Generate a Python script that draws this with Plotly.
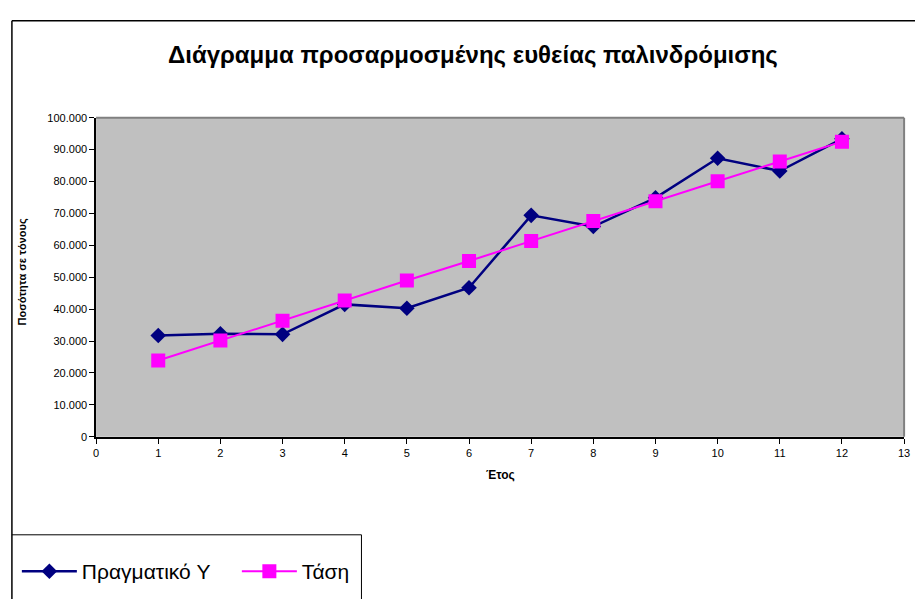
import plotly.graph_objects as go

# Years and tonnage series
years = [1, 2, 3, 4, 5, 6, 7, 8, 9, 10, 11, 12]
actual_y = [31750, 32300, 32100, 41500, 40300, 46700, 69400, 65900, 74900, 87300, 83300, 93400]
trend = [23900, 30200, 36400, 42700, 49000, 55100, 61400, 67600, 73800, 80100, 86300, 92500]

x_ticks = list(range(0, 14))
y_ticks = list(range(0, 100001, 10000))

W, H = 921, 605
FONT = "Arial, Liberation Sans, sans-serif"

# plot-area edges in pixels
PL, PR, PT, PB = 94, 910, 114, 439.5

fig = go.Figure()
fig.add_trace(go.Scatter(
    x=years, y=actual_y, name="Πραγματικό Y", mode="lines+markers",
    line=dict(color="#000080", width=2.5),
    marker=dict(symbol="diamond", size=12, color="#000080"),
))
fig.add_trace(go.Scatter(
    x=years, y=trend, name="Τάση", mode="lines+markers",
    line=dict(color="#FF00FF", width=2),
    marker=dict(symbol="square", size=14, color="#FF00FF"),
))

def px(x):
    return x / W

def py(y):
    return 1 - y / H

fig.update_layout(
    width=W, height=H,
    margin=dict(l=0, r=0, t=0, b=0),
    paper_bgcolor="white",
    plot_bgcolor="#C0C0C0",
    separators=",.",
    font=dict(family=FONT, color="black", size=11),
    showlegend=True,
    legend=dict(
        orientation="h", x=px(14), y=py(577), xanchor="left", yanchor="middle",
        font=dict(size=21, family=FONT), itemwidth=55, bgcolor="rgba(0,0,0,0)",
        entrywidth=150, entrywidthmode="pixels", tracegroupgap=0,
    ),
    xaxis=dict(
        domain=[px(PL), px(PR)], range=[0, 13], tickvals=x_ticks,
        showgrid=False, zeroline=False, showline=True, linecolor="black", linewidth=1.5,
        ticks="outside", ticklen=5, tickcolor="black", tickfont=dict(size=11),
    ),
    yaxis=dict(
        domain=[py(PB), py(PT)], range=[0, 100000], tickvals=y_ticks, tickformat=",d",
        showgrid=False, zeroline=False, showline=True, linecolor="black", linewidth=1.5,
        ticks="outside", ticklen=5, tickcolor="black", tickfont=dict(size=11),
    ),
    annotations=[
        dict(text="<b>Διάγραμμα προσαρμοσμένης ευθείας παλινδρόμισης</b>",
             x=px(475), y=py(49), xref="paper", yref="paper", showarrow=False,
             xanchor="center", yanchor="middle",
             font=dict(size=24, family=FONT)),
        dict(text="<b>Ποσότητα σε τόνους</b>", textangle=-90,
             x=px(20), y=py(271), xref="paper", yref="paper", showarrow=False,
             xanchor="center", yanchor="middle",
             font=dict(size=11, family=FONT)),
        dict(text="<b>Έτος</b>",
             x=px(502), y=py(479), xref="paper", yref="paper", showarrow=False,
             xanchor="center", yanchor="middle",
             font=dict(size=12, family=FONT)),
    ],
    shapes=[
        # gray frame on top/right of plot area
        dict(type="line", xref="paper", yref="paper", x0=px(PL), x1=px(PR), y0=py(PT), y1=py(PT),
             line=dict(color="#808080", width=2)),
        dict(type="line", xref="paper", yref="paper", x0=px(PR), x1=px(PR), y0=py(PT), y1=py(PB),
             line=dict(color="#808080", width=2)),
        # outer chart border
        dict(type="line", xref="paper", yref="paper", x0=px(9), x1=1, y0=py(15), y1=py(15),
             line=dict(color="black", width=1.5)),
        dict(type="line", xref="paper", yref="paper", x0=px(9), x1=px(9), y0=py(15), y1=0,
             line=dict(color="black", width=1.5)),
        # legend box
        dict(type="line", xref="paper", yref="paper", x0=px(9), x1=px(362), y0=py(539.5), y1=py(539.5),
             line=dict(color="black", width=1)),
        dict(type="line", xref="paper", yref="paper", x0=px(362), x1=px(362), y0=py(539.5), y1=0,
             line=dict(color="black", width=1)),
    ],
)

fig.write_html("out.html")
